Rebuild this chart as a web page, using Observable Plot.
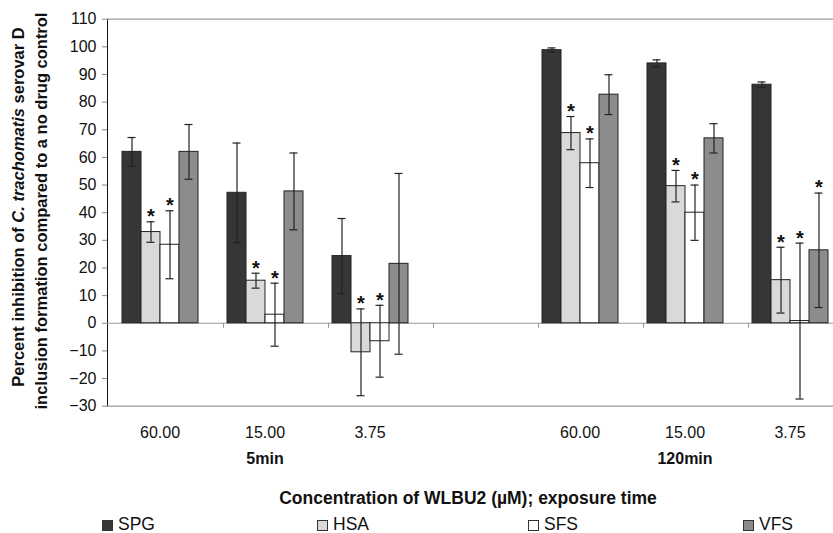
<!DOCTYPE html>
<html><head><meta charset="utf-8">
<script src="https://cdn.jsdelivr.net/npm/d3@7"></script>
<script src="https://cdn.jsdelivr.net/npm/@observablehq/plot@0.6"></script>
<style>
html,body{margin:0;padding:0;background:#fff;overflow:hidden;width:833px;height:533px}
#wrap{position:relative;width:833px;height:533px;font-family:"Liberation Sans",Arial,sans-serif;color:#111}
#xtitle{position:absolute;left:0;width:936px;top:487px;text-align:center;font-weight:bold;font-size:17.5px;line-height:22px;white-space:nowrap}
#legend{position:absolute;top:516px;left:0;width:833px;height:17px}
.item{position:absolute;top:0;height:17px;font-size:17.5px;line-height:17px;white-space:nowrap}
.sw{position:absolute;left:0;top:4px;width:9px;height:9px;border:1px solid #333}
.lt{position:absolute;left:16px;top:0}
</style></head>
<body><div id="wrap"></div>
<script>
// ---- data ----
const slots = ["5min 60.00","5min 15.00","5min 3.75","gap","120min 60.00","120min 15.00","120min 3.75"];
const slotLabels = ["60.00","15.00","3.75","","60.00","15.00","3.75"];
const groupSlots = ["5min 60.00","5min 15.00","5min 3.75","120min 60.00","120min 15.00","120min 3.75"];
const timeLabels = ["5min","120min"];
const timeSlots = ["5min 15.00","120min 15.00"];
const series = ["SPG","HSA","SFS","VFS"];
const seriesColors = ["#363636","#d9d9d9","#ffffff","#8c8c8c"];
const spg = [62, 47.2, 24.3, 98.8, 94.0, 86.3];
const spgErr = [5.2, 18, 13.6, 0.8, 1.3, 1.0];
const hsa = [33, 15.4, -10.5, 68.8, 49.6, 15.6];
const hsaErr = [3.7, 2.7, 15.7, 6.0, 5.7, 11.9];
const sfs = [28.4, 3.1, -6.5, 57.9, 40.0, 0.8];
const sfsErr = [12.3, 11.4, 13.0, 8.8, 10.0, 28.2];
const vfs = [62, 47.7, 21.5, 82.7, 66.9, 26.4];
const vfsErr = [9.9, 13.9, 32.7, 7.2, 5.3, 20.7];
const spgSig = [0,0,0,0,0,0];
const hsaSig = [1,1,1,1,1,1];
const sfsSig = [1,1,1,1,1,1];
const vfsSig = [0,0,0,0,0,1];
const yTicks = [-30,-20,-10,0,10,20,30,40,50,60,70,80,90,100,110];
const yLabel1 = ["Percent inhibition of ", "C. trachomatis", " serovar D"];
const yLabel2 = "inclusion formation compared to a no drug control";
const xTitle = "Concentration of WLBU2 (\u00b5M); exposure time";

// ---- build ----
const vals = {SPG: spg, HSA: hsa, SFS: sfs, VFS: vfs};
const errs = {SPG: spgErr, HSA: hsaErr, SFS: sfsErr, VFS: vfsErr};
const sigs = {SPG: spgSig, HSA: hsaSig, SFS: sfsSig, VFS: vfsSig};
const rows = groupSlots.flatMap((s, i) => series.map(k => ({
  slot: s, series: k, value: vals[k][i], lo: vals[k][i] - errs[k][i], hi: vals[k][i] + errs[k][i], sig: sigs[k][i]
})));
const frameLines = slots.flatMap(s => [{slot: s, y: 110}, {slot: s, y: -30}, {slot: s, y: 0}]);
const boundaries = slots.slice(1).map(s => ({slot: s}));
const timeRows = timeSlots.map((s, i) => ({slot: s, t: timeLabels[i]}));

const W = 850, H = 516, mL = 106, mR = 8;
const pad = 0.69;
const slotW = (W - mL - mR) / slots.length;
const step = slotW / (series.length + 2 * pad);

const plot = Plot.plot({
  width: W, height: H,
  marginTop: 18.7, marginBottom: H - 405.7, marginLeft: mL, marginRight: mR,
  style: {fontFamily: "Liberation Sans, Arial, sans-serif", fontSize: "16px", background: "white", maxWidth: "none", overflow: "visible", color: "#111"},
  fx: {domain: slots, paddingInner: 0, paddingOuter: 0, tickFormat: d => slotLabels[slots.indexOf(d)], tickSize: 0, tickPadding: 20, label: null},
  x: {domain: series, paddingInner: 0, paddingOuter: pad, axis: null},
  y: {domain: [-30, 110], ticks: yTicks, tickSize: 5, tickPadding: 6, label: null, line: true},
  color: {domain: series, range: seriesColors},
  marks: [
    Plot.ruleY(frameLines, {fx: "slot", y: "y", stroke: "#999", strokeWidth: 1.2}),
    Plot.ruleX(boundaries, {fx: "slot", x: () => series[0], y1: () => 0, y2: () => -1.8, dx: -pad * step, stroke: "#999"}),
    Plot.barY(rows, {fx: "slot", x: "series", y1: () => 0, y2: "value", fill: "series", stroke: "#222", strokeWidth: 1}),
    Plot.ruleX(rows, {fx: "slot", x: "series", y1: "lo", y2: "hi", stroke: "#222", strokeWidth: 1.2}),
    Plot.tickY(rows, {fx: "slot", x: "series", y: "lo", stroke: "#222", strokeWidth: 1.2, insetLeft: 5.5, insetRight: 5.5}),
    Plot.tickY(rows, {fx: "slot", x: "series", y: "hi", stroke: "#222", strokeWidth: 1.2, insetLeft: 5.5, insetRight: 5.5}),
    Plot.text(rows.filter(d => d.sig), {fx: "slot", x: "series", y: "hi", text: () => "*", dy: -5, fontWeight: "bold", fontSize: 20, fill: "#111"}),
    Plot.text(timeRows, {fx: "slot", text: "t", frameAnchor: "bottom", dy: 58, fontWeight: "bold", fontSize: 16, fill: "#111"})
  ]
});

const wrap = document.getElementById("wrap");
wrap.appendChild(plot);
const svg = d3.select(plot.tagName.toLowerCase() === "svg" ? plot : plot.querySelector("svg"));
svg.selectAll("[aria-label='y-axis tick'] path, [aria-label='y-axis tick'] line").attr("stroke", "#888");
svg.selectAll("[aria-label='y-axis line'] line, [aria-label='y-axis line'] path").attr("stroke", "#888");

const lab = svg.append("g").attr("font-weight", "bold").attr("font-size", 16.5).attr("fill", "#111")
  .attr("font-family", "Liberation Sans, Arial, sans-serif").attr("text-anchor", "middle");
const t1 = lab.append("text").attr("transform", "translate(24,207) rotate(-90)");
yLabel1.forEach((s, i) => t1.append("tspan").attr("font-style", i === 1 ? "italic" : null).text(s));
lab.append("text").attr("transform", "translate(46.5,211) rotate(-90)").text(yLabel2);

const xt = document.createElement("div");
xt.id = "xtitle"; xt.textContent = xTitle; wrap.appendChild(xt);

const legend = document.createElement("div");
legend.id = "legend";
const legendX = [102, 317, 528, 743];
series.forEach((k, i) => {
  const it = document.createElement("div");
  it.className = "item"; it.style.left = legendX[i] + "px";
  const sw = document.createElement("div"); sw.className = "sw"; sw.style.background = seriesColors[i];
  const lt = document.createElement("div"); lt.className = "lt"; lt.textContent = k;
  it.appendChild(sw); it.appendChild(lt); legend.appendChild(it);
});
wrap.appendChild(legend);
</script></body></html>
